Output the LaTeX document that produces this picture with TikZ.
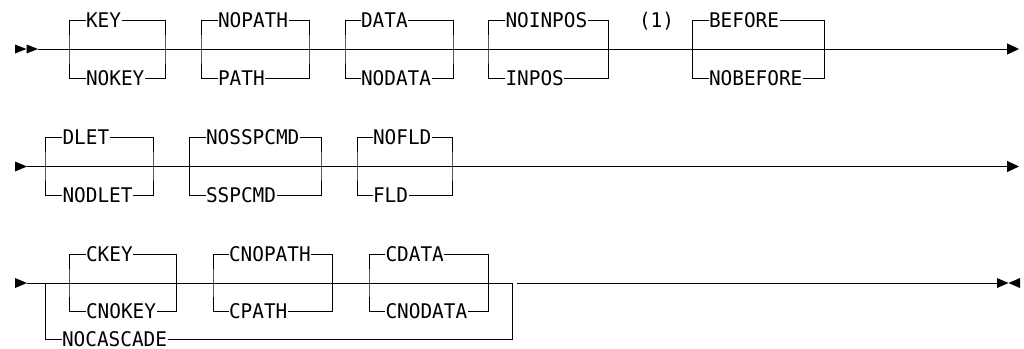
\documentclass[tikz,border=0pt]{standalone}
\usepackage{fontspec}
\setmonofont{DejaVu Sans Mono}[FakeStretch=0.96]
\usetikzlibrary{arrows.meta}

\begin{document}
\begin{tikzpicture}[
						x=1pt, y=-1pt,
						line width=1pt,
						every node/.style={font=\ttfamily\fontsize{20.2}{21}\selectfont},
						kw/.style={anchor=west, inner xsep=0pt, inner ysep=0pt, text height=14.7pt, text depth=0pt},
						endtip/.style={-{Triangle[length=12pt,width=11pt]}}
						]
						
						\useasboundingbox (0,0) rectangle (1024,348);
						
						% first line
						\coordinate (r1s) at (38,49);
						\coordinate (r1e) at (1019,49);
						\fill (15,44.5) -- (26.5,49) -- (15,53.5) -- cycle;
						\fill (26.5,44.5) -- (38,49) -- (26.5,53.5) -- cycle;
						\draw[endtip] (r1s) -- (r1e);
						
						\node[kw] (key) at (85.5,20) {KEY};
						\node[kw] (nokey) at (85.5,78.5) {NOKEY};
						\coordinate (keyL) at (69,49);
						\coordinate (keyR) at (165,49);
						\draw (key.west) -| (keyL) |- (nokey.west);
						\draw (key.east) -| (keyR) |- (nokey.east);
						
						\node[kw] (nopath) at (217.5,20) {NOPATH};
						\node[kw] (path) at (217.5,78.5) {PATH};
						\coordinate (pathL) at (201,49);
						\coordinate (pathR) at (309,49);
						\draw (nopath.west) -| (pathL) |- (path.west);
						\draw (nopath.east) -| (pathR) |- (path.east);
						
						\node[kw] (data) at (360.5,20) {DATA};
						\node[kw] (nodata) at (360.5,78.5) {NODATA};
						\coordinate (dataL) at (345,49);
						\coordinate (dataR) at (453,49);
						\draw (data.west) -| (dataL) |- (nodata.west);
						\draw (data.east) -| (dataR) |- (nodata.east);
						
						\node[kw] (noinpos) at (505,20) {NOINPOS};
						\node[kw] (inpos) at (505,78.5) {INPOS};
						\coordinate (inposL) at (488,49);
						\coordinate (inposR) at (608,49);
						\draw (noinpos.west) -| (inposL) |- (inpos.west);
						\draw (noinpos.east) -| (inposR) |- (inpos.east);
						
						\node[kw] (note1) at (638.5,20) {(1)};
						
						\node[kw] (before) at (708.5,20) {BEFORE};
						\node[kw] (nobefore) at (708.5,78.5) {NOBEFORE};
						\coordinate (beforeL) at (692,49);
						\coordinate (beforeR) at (824,49);
						\draw (before.west) -| (beforeL) |- (nobefore.west);
						\draw (before.east) -| (beforeR) |- (nobefore.east);
						
						% second line
						\coordinate (r2s) at (27,166.5);
						\coordinate (r2e) at (1019,166.5);
						\fill (15,161.5) -- (27,166.5) -- (15,171.5) -- cycle;
						\draw[endtip] (r2s) -- (r2e);
						
						\node[kw] (dlet) at (62,137) {DLET};
						\node[kw] (nodlet) at (62,195) {NODLET};
						\coordinate (dletL) at (45,166.5);
						\coordinate (dletR) at (153,166.5);
						\draw (dlet.west) -| (dletL) |- (nodlet.west);
						\draw (dlet.east) -| (dletR) |- (nodlet.east);
						
						\node[kw] (nosspcmd) at (205.5,137) {NOSSPCMD};
						\node[kw] (sspcmd) at (205.5,195) {SSPCMD};
						\coordinate (sspcmdL) at (189.5,166.5);
						\coordinate (sspcmdR) at (321,166.5);
						\draw (nosspcmd.west) -| (sspcmdL) |- (sspcmd.west);
						\draw (nosspcmd.east) -| (sspcmdR) |- (sspcmd.east);
						
						\node[kw] (nofld) at (372.5,137) {NOFLD};
						\node[kw] (fld) at (372.5,195) {FLD};
						\coordinate (fldL) at (357,166.5);
						\coordinate (fldR) at (452,166.5);
						\draw (nofld.west) -| (fldL) |- (fld.west);
						\draw (nofld.east) -| (fldR) |- (fld.east);
						
						% third line
						\coordinate (r3s) at (27,283);
						\coordinate (r3r) at (517,283);
						\coordinate (r3e) at (997,283);
						\fill (15,278) -- (27,283) -- (15,288) -- cycle;
						\fill (997,278) -- (1008.5,283) -- (997,288) -- cycle;
						\fill (1020,278) -- (1008.5,283) -- (1020,288) -- cycle;
						
						\node[kw] (nocascade) at (61.5,339) {NOCASCADE};
						\coordinate (casL) at (45.5,283);
						\coordinate (casR) at (512.5,283);
						\draw (r3s) -- (casR);
						\draw (r3r) -- (r3e);
						\draw (casL) |- (nocascade.west);
						\draw (nocascade.east) -| (casR);
						
						\node[kw] (ckey) at (85.5,254) {CKEY};
						\node[kw] (cnokey) at (85.5,311.5) {CNOKEY};
						\coordinate (ckeyL) at (69,283);
						\coordinate (ckeyR) at (176.5,283);
						\draw (ckey.west) -| (ckeyL) |- (cnokey.west);
						\draw (ckey.east) -| (ckeyR) |- (cnokey.east);
						
						\node[kw] (cnopath) at (228.5,254) {CNOPATH};
						\node[kw] (cpath) at (228.5,311.5) {CPATH};
						\coordinate (cpathL) at (213,283);
						\coordinate (cpathR) at (332.5,283);
						\draw (cnopath.west) -| (cpathL) |- (cpath.west);
						\draw (cnopath.east) -| (cpathR) |- (cpath.east);
						
						\node[kw] (cdata) at (385,254) {CDATA};
						\node[kw] (cnodata) at (385,311.5) {CNODATA};
						\coordinate (cdataL) at (369,283);
						\coordinate (cdataR) at (488.5,283);
						\draw (cdata.west) -| (cdataL) |- (cnodata.west);
						\draw (cdata.east) -| (cdataR) |- (cnodata.east);
						
					\end{tikzpicture}
\end{document}
